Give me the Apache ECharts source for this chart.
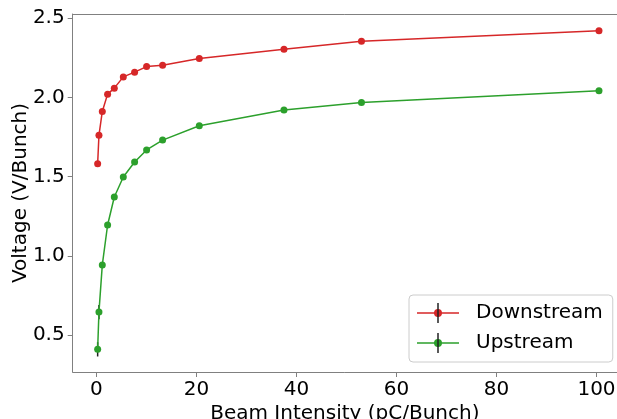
<!DOCTYPE html>
<html>
<head>
<meta charset="utf-8">
<script src="https://cdn.jsdelivr.net/npm/echarts@6/dist/echarts.min.js"></script>
<style>html,body{margin:0;padding:0;background:#fff}#c{width:617px;height:419px}</style>
</head>
<body>
<div id="c"></div>
<script>
var intensity = [0.24, 0.5, 1.17, 2.23, 3.57, 5.37, 7.63, 10.03, 13.23, 20.57, 37.5, 53.0, 100.5];
var downstream = [1.582, 1.761, 1.912, 2.021, 2.059, 2.130, 2.160, 2.195, 2.204, 2.246, 2.305, 2.355, 2.422];
var upstream = [0.410, 0.645, 0.943, 1.195, 1.372, 1.498, 1.593, 1.669, 1.731, 1.822, 1.921, 1.969, 2.042];
var downstreamErr = [0.015, 0.01, 0.01, 0.01, 0.01, 0.01, 0.01, 0.01, 0.01, 0.01, 0.01, 0.01, 0.01];
var upstreamErr = [0.045, 0.045, 0.015, 0.01, 0.01, 0.01, 0.01, 0.01, 0.01, 0.01, 0.01, 0.01, 0.01];
var xTicks = [0, 20, 40, 60, 80, 100];
var yTicks = [0.5, 1.0, 1.5, 2.0, 2.5];
var seriesNames = ['Downstream', 'Upstream'];
var colors = ['#d62728', '#2ca02c'];

function pairs(xs, ys) { return xs.map(function (x, i) { return [x, ys[i]]; }); }
function errData(xs, ys, es) { return xs.map(function (x, i) { return [x, ys[i] - es[i], ys[i] + es[i]]; }); }

var FONT = 'DejaVu Sans';
var GRAY = '#808080';
var XMIN = -4.75, XMAX = 104.1, YMIN = 0.267, YMAX = 2.527;

function errRender(params, api) {
  var p1 = api.coord([api.value(0), api.value(1)]);
  var p2 = api.coord([api.value(0), api.value(2)]);
  return {
    type: 'line',
    shape: { x1: p1[0], y1: p1[1], x2: p2[0], y2: p2[1] },
    style: { stroke: '#222', lineWidth: 1.5 }
  };
}

var iconPath = 'path://M0,3.25 L42,3.25 L42,4.75 L0,4.75 Z M17,4 A4,4 0 1,1 25,4 A4,4 0 1,1 17,4 Z';

var chart = echarts.init(document.getElementById('c'), null, { renderer: 'canvas' });
chart.setOption({
  animation: false,
  backgroundColor: '#fff',
  textStyle: { fontFamily: FONT },
  grid: { left: 72.7, right: 0, top: 14, bottom: 47, containLabel: false, outerBoundsMode: 'none' },
  xAxis: [{
    type: 'value', min: XMIN, max: XMAX,
    name: 'Beam Intensity (pC/Bunch)', nameLocation: 'middle', nameGap: 32, nameMoveOverlap: false,
    nameTextStyle: { fontSize: 20, color: '#000', fontFamily: FONT },
    axisLine: { show: true, onZero: false, lineStyle: { color: GRAY, width: 1 } },
    axisTick: { show: true, length: 5, lineStyle: { color: GRAY }, customValues: xTicks },
    axisLabel: { fontSize: 20, color: '#000', margin: 8, fontFamily: FONT, customValues: xTicks },
    splitLine: { show: false }
  }, {
    type: 'value', min: XMIN, max: XMAX, position: 'top',
    axisLine: { show: true, onZero: false, lineStyle: { color: GRAY, width: 1 } },
    axisTick: { show: false }, axisLabel: { show: false }, splitLine: { show: false }
  }],
  yAxis: {
    type: 'value', min: YMIN, max: YMAX,
    name: 'Voltage (V/Bunch)', nameLocation: 'middle', nameGap: 42, nameRotate: 90, nameMoveOverlap: false,
    nameTextStyle: { fontSize: 20, color: '#000', fontFamily: FONT },
    axisLine: { show: true, onZero: false, lineStyle: { color: GRAY, width: 1 } },
    axisTick: { show: true, length: 5, lineStyle: { color: GRAY }, customValues: yTicks },
    axisLabel: { fontSize: 20, color: '#000', margin: 8, fontFamily: FONT, customValues: yTicks,
      formatter: function (v) { return v.toFixed(1); } },
    splitLine: { show: false }
  },
  legend: {
    orient: 'vertical', left: 409, top: 295,
    padding: [8, 10, 9, 8], itemGap: 10, itemWidth: 42, itemHeight: 8,
    backgroundColor: 'rgba(255,255,255,0.8)', borderColor: '#cccccc', borderWidth: 1, borderRadius: 4,
    textStyle: { fontSize: 20, color: '#000', fontFamily: FONT, lineHeight: 20, padding: [0, 0, 0, 12] },
    data: [
      { name: seriesNames[0], icon: iconPath, itemStyle: { color: colors[0] } },
      { name: seriesNames[1], icon: iconPath, itemStyle: { color: colors[1] } }
    ]
  },
  graphic: [
    { type: 'line', z: 100, shape: { x1: 438, y1: 303, x2: 438, y2: 323 }, style: { stroke: '#222', lineWidth: 1.5 } },
    { type: 'line', z: 100, shape: { x1: 438, y1: 333, x2: 438, y2: 353 }, style: { stroke: '#222', lineWidth: 1.5 } }
  ],
  series: [
    { name: seriesNames[0], type: 'custom', renderItem: errRender, data: errData(intensity, downstream, downstreamErr), z: 1, silent: true, legendHoverLink: false },
    { name: seriesNames[1], type: 'custom', renderItem: errRender, data: errData(intensity, upstream, upstreamErr), z: 1, silent: true, legendHoverLink: false },
    { name: seriesNames[0], type: 'line', data: pairs(intensity, downstream), symbol: 'circle', symbolSize: 7,
      lineStyle: { color: colors[0], width: 1.5 }, itemStyle: { color: colors[0] }, z: 3 },
    { name: seriesNames[1], type: 'line', data: pairs(intensity, upstream), symbol: 'circle', symbolSize: 7,
      lineStyle: { color: colors[1], width: 1.5 }, itemStyle: { color: colors[1] }, z: 3 }
  ]
});
</script>
</body>
</html>
